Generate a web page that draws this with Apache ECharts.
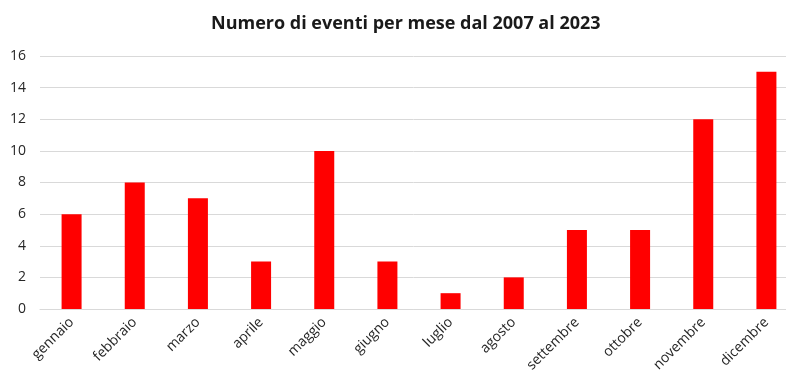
<!DOCTYPE html>
<html>
<head>
<meta charset="utf-8">
<script src="https://cdn.jsdelivr.net/npm/echarts@6/dist/echarts.min.js"></script>
<style>
  html, body { margin: 0; padding: 0; background: #fff; }
  #chart { width: 786px; height: 374px; }
</style>
</head>
<body>
<div id="chart"></div>
<script>
// Months of the year
const months = ['gennaio', 'febbraio', 'marzo', 'aprile', 'maggio', 'giugno',
  'luglio', 'agosto', 'settembre', 'ottobre', 'novembre', 'dicembre'];
// Events counted per month, 2007–2023
const eventCounts = [6, 8, 7, 3, 10, 3, 1, 2, 5, 5, 12, 15];
// Y axis range
const yMin = 0;
const yMax = 16;
const yStep = 2;

const chart = echarts.init(document.getElementById('chart'));
chart.setOption({
  animation: false,
  title: {
    text: 'Numero di eventi per mese dal 2007 al 2023',
    left: 206,
    top: 10,
    textStyle: {
      fontFamily: 'Open Sans',
      fontSize: 18,
      fontWeight: 'bold',
      color: '#1a1a1a'
    }
  },
  grid: {
    left: 40,
    top: 56,
    width: 758,
    height: 253,
    containLabel: false,
    outerBoundsMode: 'none'
  },
  xAxis: {
    type: 'category',
    data: months,
    axisLine: { show: true, lineStyle: { color: '#d9d9d9', width: 1 } },
    axisTick: { show: false },
    axisLabel: {
      rotate: 45,
      interval: 0,
      margin: 11,
      fontFamily: 'Open Sans',
      fontSize: 14,
      color: '#262626'
    }
  },
  yAxis: {
    type: 'value',
    min: yMin,
    max: yMax,
    interval: yStep,
    axisLine: { show: false },
    axisTick: { show: false },
    splitLine: { lineStyle: { color: '#d9d9d9', width: 1 } },
    axisLabel: {
      margin: 14,
      fontFamily: 'Open Sans',
      fontSize: 14,
      color: '#262626'
    }
  },
  series: [{
    type: 'bar',
    data: eventCounts,
    barWidth: 20,
    itemStyle: { color: '#ff0000' }
  }]
});
</script>
</body>
</html>
